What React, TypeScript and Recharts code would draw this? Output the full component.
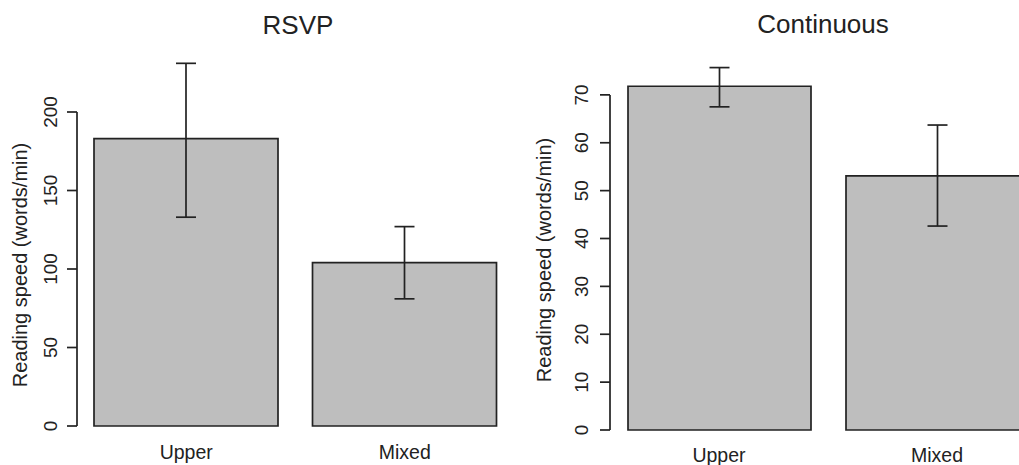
import React from 'react';
import { BarChart, Bar, XAxis, YAxis, ErrorBar } from 'recharts';

const categories = ['Upper', 'Mixed'];

const rsvpMeans = [183, 104];
const rsvpLow = [133, 81];
const rsvpHigh = [231, 127];
const rsvpTicks = [0, 50, 100, 150, 200];
const rsvpDomain: [number, number] = [0, 250];

const contMeans = [71.8, 53.1];
const contLow = [67.5, 42.6];
const contHigh = [75.7, 63.7];
const contTicks = [0, 10, 20, 30, 40, 50, 60, 70];
const contDomain: [number, number] = [0, 80];

const titles = ['RSVP', 'Continuous'];
const yLabel = 'Reading speed (words/min)';

const FONT = '"Liberation Sans", Arial, Helvetica, sans-serif';
const INK = '#222222';

const build = (means: number[], low: number[], high: number[]) =>
  categories.map((c, i) => ({
    name: c,
    value: means[i],
    err: [means[i] - low[i], high[i] - means[i]],
  }));

const rsvpData = build(rsvpMeans, rsvpLow, rsvpHigh);
const contData = build(contMeans, contLow, contHigh);

const YTick = (props: any) => {
  const { x, y, payload } = props;
  return (
    <text
      x={x}
      y={y}
      transform={`rotate(-90, ${x}, ${y})`}
      textAnchor="middle"
      fontSize={19}
      fill={INK}
      fontFamily={FONT}
    >
      {payload.value}
    </text>
  );
};

const makeXTick = (dy: number) => (props: any) => {
  const { x, y, payload } = props;
  return (
    <text x={x} y={y} dy={dy} textAnchor="middle" fontSize={19.5} fill={INK} fontFamily={FONT}>
      {payload.value}
    </text>
  );
};

type PanelProps = {
  data: any[];
  ticks: number[];
  domain: [number, number];
  width: number;
  height: number;
  yAxisWidth: number;
  top: number;
  xAxisHeight: number;
  right: number;
  barSize: number;
  tickMargin: number;
  xTickDy: number;
};

const Panel = (p: PanelProps) => {
  const plotH = p.height - p.top - p.xAxisHeight;
  const maxTick = p.ticks[p.ticks.length - 1];
  const gap = (plotH * (p.domain[1] - maxTick)) / (p.domain[1] - p.domain[0]);
  const len = plotH - gap;
  return (
    <BarChart
      width={p.width}
      height={p.height}
      data={p.data}
      margin={{ top: p.top, right: p.right, bottom: 0, left: 0 }}
    >
      <XAxis
        dataKey="name"
        axisLine={false}
        tickLine={false}
        height={p.xAxisHeight}
        tick={makeXTick(p.xTickDy)}
        interval={0}
      />
      <YAxis
        type="number"
        domain={p.domain}
        ticks={p.ticks}
        width={p.yAxisWidth}
        tickSize={10}
        tickMargin={p.tickMargin}
        tick={<YTick />}
        tickLine={{ stroke: INK, strokeWidth: 1.7 }}
        axisLine={{ stroke: INK, strokeWidth: 1.7, strokeDasharray: `0 ${gap} ${len} 2000` }}
        interval={0}
      />
      <Bar
        dataKey="value"
        fill="#BEBEBE"
        stroke={INK}
        strokeWidth={1.7}
        barSize={p.barSize}
        isAnimationActive={false}
      >
        <ErrorBar dataKey="err" width={10} stroke={INK} strokeWidth={1.7} isAnimationActive={false} />
      </Bar>
    </BarChart>
  );
};

export default function App() {
  return (
    <div
      style={{
        position: 'absolute',
        left: 0,
        top: 0,
        width: 1019,
        height: 465,
        overflow: 'hidden',
        background: '#ffffff',
      }}
    >
      <div style={{ position: 'absolute', left: 0, top: 0 }}>
        <Panel
          data={rsvpData}
          ticks={rsvpTicks}
          domain={rsvpDomain}
          width={520}
          height={465}
          yAxisWidth={77}
          top={33.5}
          xAxisHeight={39}
          right={6}
          barSize={184}
          tickMargin={10}
          xTickDy={25}
        />
      </div>
      <div style={{ position: 'absolute', left: 520, top: 0 }}>
        <Panel
          data={contData}
          ticks={contTicks}
          domain={contDomain}
          width={540}
          height={465}
          yAxisWidth={90}
          top={47}
          xAxisHeight={35}
          right={14}
          barSize={183}
          tickMargin={12}
          xTickDy={24}
        />
      </div>
      <svg
        width={1019}
        height={465}
        style={{ position: 'absolute', left: 0, top: 0, pointerEvents: 'none' }}
      >
        <text x={298} y={34} textAnchor="middle" fontSize={26} fill={INK} fontFamily={FONT}>
          {titles[0]}
        </text>
        <text x={823} y={33} textAnchor="middle" fontSize={26} fill={INK} fontFamily={FONT}>
          {titles[1]}
        </text>
        <text
          x={27}
          y={265}
          transform="rotate(-90, 27, 265)"
          textAnchor="middle"
          fontSize={20}
          fill={INK}
          fontFamily={FONT}
        >
          {yLabel}
        </text>
        <text
          x={551}
          y={260}
          transform="rotate(-90, 551, 260)"
          textAnchor="middle"
          fontSize={20}
          fill={INK}
          fontFamily={FONT}
        >
          {yLabel}
        </text>
      </svg>
    </div>
  );
}
